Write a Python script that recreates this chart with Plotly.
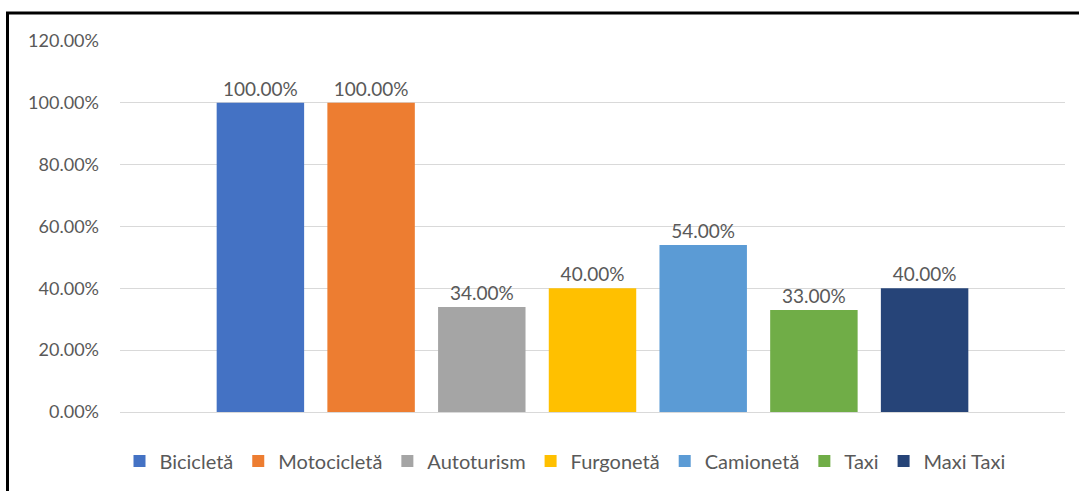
import plotly.graph_objects as go

categories = [""]
series_names = ["Bicicletă", "Motocicletă", "Autoturism", "Furgonetă", "Camionetă", "Taxi", "Maxi Taxi"]
series_values = [1.00, 1.00, 0.34, 0.40, 0.54, 0.33, 0.40]
series_colors = ["#4472C4", "#ED7D31", "#A5A5A5", "#FFC000", "#5B9BD5", "#70AD47", "#264478"]
tick_values = [0, 0.2, 0.4, 0.6, 0.8, 1.0, 1.2]
tick_labels = ["0.00%", "20.00%", "40.00%", "60.00%", "80.00%", "100.00%", "120.00%"]

FONT = "Lato, Calibri, 'Open Sans', sans-serif"

fig = go.Figure()
for name, val, col in zip(series_names, series_values, series_colors):
    fig.add_trace(go.Bar(
        x=categories, y=[val], name=name,
        marker=dict(color=col, line=dict(width=0)),
        text=[f"{val*100:.2f}%"], textposition="outside",
        textfont=dict(size=19, color="#595959", family=FONT),
        cliponaxis=False,
    ))

W, H = 1079, 491
L, R, T, B = 120, 14, 41, 79
pw, ph = W - L - R, H - T - B

def px_x(p):
    return (p - L) / pw

def px_y(p):
    return (H - B - p) / ph

fig.update_layout(
    width=W, height=H,
    margin=dict(l=L, r=R, t=T, b=B, autoexpand=False),
    paper_bgcolor="white", plot_bgcolor="white",
    barmode="group", bargap=0.18, bargroupgap=0.21,
    font=dict(family=FONT, color="#595959", size=18),
    showlegend=True,
    legend=dict(orientation="h", x=px_x(565), xanchor="center", y=px_y(461), yanchor="middle",
                font=dict(size=20, color="#595959", family=FONT),
                itemwidth=30, traceorder="normal"),
    xaxis=dict(showticklabels=False, showgrid=False, zeroline=False, showline=False),
    yaxis=dict(range=[0, 1.2], tickvals=tick_values, ticktext=tick_labels,
               showgrid=True, gridcolor="#D9D9D9", gridwidth=1,
               zeroline=True, zerolinecolor="#D9D9D9", zerolinewidth=1,
               showline=False, ticks="", ticklabelstandoff=20,
               tickfont=dict(size=18, color="#595959", family=FONT)),
    shapes=[
        dict(type="line", xref="paper", yref="paper", x0=px_x(7.5), x1=px_x(7.5),
             y0=px_y(13), y1=px_y(495), line=dict(color="black", width=3)),
        dict(type="line", xref="paper", yref="paper", x0=px_x(6), x1=px_x(1085),
             y0=px_y(13), y1=px_y(13), line=dict(color="black", width=3)),
    ],
)

fig.write_html("out.html", config={"displayModeBar": False},
               post_script="document.body.style.margin='0';")
